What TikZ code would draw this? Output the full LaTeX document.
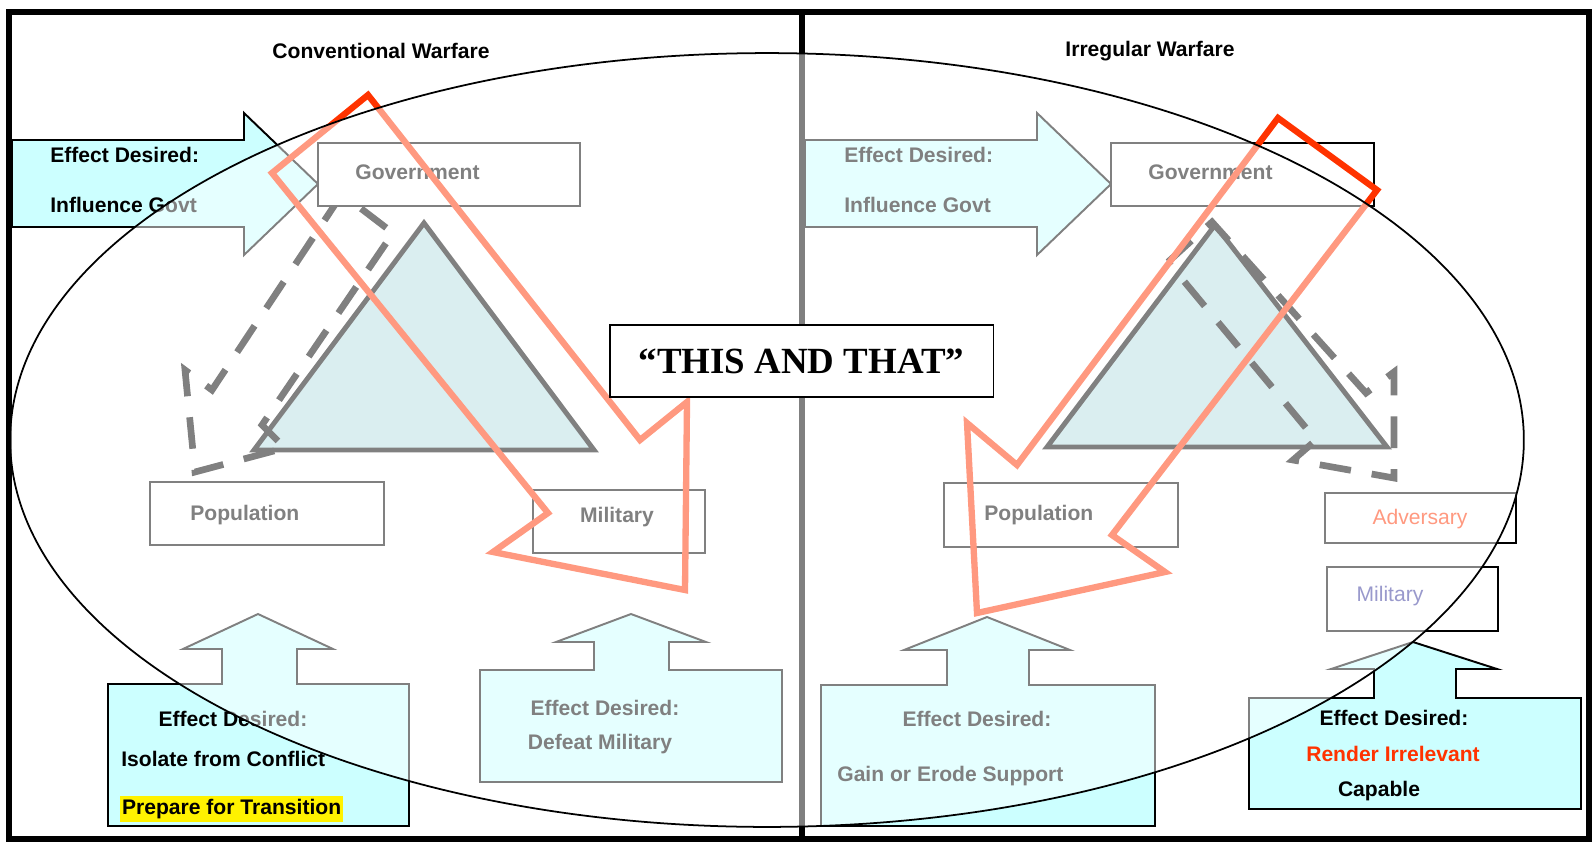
\documentclass[tikz,border=0pt]{standalone}
\usepackage{fontspec}
\setmainfont{Liberation Sans}
\newfontfamily\serifbold{Liberation Serif}
\usepackage{xcolor}
\usepackage{tikz}
\usetikzlibrary{positioning}
\definecolor{hotred}{HTML}{FF3300}
\definecolor{effectcyan}{HTML}{CCFFFF}
\definecolor{triteal}{HTML}{B5DDE1}
\definecolor{navyviolet}{HTML}{333399}
\tikzstyle{lbl} = [font=\fontsize{12}{14}\selectfont\bfseries, inner sep=0pt, yshift=-1.1pt]
\tikzstyle{plainlbl} = [font=\fontsize{12}{14}\selectfont, inner sep=0pt, yshift=-1.1pt]
\tikzstyle{entity} = [rectangle, draw=black, line width=1.1pt, fill=white, inner sep=0pt]
\tikzstyle{effect} = [draw=black, line width=1.1pt, fill=effectcyan]
\tikzstyle{pillar} = [draw=black, line width=2.8pt, fill=triteal]
\tikzstyle{linkage} = [draw=black, line width=3.8pt, dash pattern=on 18pt off 12pt]
\tikzstyle{focusarrow} = [draw=hotred, line width=3.6pt]

\begin{document}
\begin{tikzpicture}[x=0.02cm, y=-0.02cm]
\useasboundingbox (0,0) rectangle (1592,842);
\draw[line width=3.2pt] (9,12) rectangle (1589,839);
\draw[line width=3.4pt] (802,12) -- (802,839);

\node[lbl] (convtitle) at (381,49) {Conventional Warfare};
\node[lbl] (irrtitle) at (1150,49) {Irregular Warfare};

\draw[effect] (12,140) -- (244,140) -- (244,113) -- (318,184) -- (244,255) -- (244,227) -- (12,227) -- cycle;
\draw[effect] (805,140) -- (1037,140) -- (1037,113) -- (1111,184) -- (1037,255) -- (1037,227) -- (805,227) -- cycle;
\node[lbl, anchor=west] (infLa) at (50,153) {Effect Desired:};
\node[lbl, anchor=west] (infLb) at (50,203) {Influence Govt};
\node[lbl, anchor=west] (infRa) at (844,153) {Effect Desired:};
\node[lbl, anchor=west] (infRb) at (844,203) {Influence Govt};

\draw[effect] (108,684) -- (222,684) -- (222,649) -- (183,649) -- (258,614) -- (333,649) -- (297,649) -- (297,684) -- (409,684) -- (409,826) -- (108,826) -- cycle;
\draw[effect] (480,670) -- (594,670) -- (594,642) -- (556,642) -- (631,614) -- (706,642) -- (669,642) -- (669,670) -- (782,670) -- (782,782) -- (480,782) -- cycle;
\draw[effect] (821,685) -- (947,685) -- (947,650) -- (904,650) -- (987,617) -- (1070,650) -- (1029,650) -- (1029,685) -- (1155,685) -- (1155,826) -- (821,826) -- cycle;
\draw[effect] (1249,698) -- (1374,698) -- (1374,669) -- (1331,669) -- (1413,642) -- (1497,669) -- (1456,669) -- (1456,698) -- (1581,698) -- (1581,809) -- (1249,809) -- cycle;

\node[lbl] (isoa) at (233,717) {Effect Desired:};
\node[lbl, anchor=west] (isob) at (121,757) {Isolate from Conflict};
\node[lbl, anchor=west, fill=yellow, inner xsep=1pt, inner ysep=2pt] (isoc) at (120,807) {Prepare for Transition};
\node[lbl] (defa) at (605,706) {Effect Desired:};
\node[lbl] (defb) at (600,742) {Defeat Military};
\node[lbl] (gaina) at (977,717) {Effect Desired:};
\node[lbl, anchor=west] (gainb) at (837,774) {Gain or Erode Support};
\node[lbl] (renda) at (1394,716) {Effect Desired:};
\node[lbl, text=hotred] (rendb) at (1393,752) {Render Irrelevant};
\node[lbl] (rendc) at (1379,789) {Capable};

\draw[pillar] (424,223) -- (594,450) -- (254,450) -- cycle;
\draw[pillar] (1215,225) -- (1387,447) -- (1047,447) -- cycle;

\draw[linkage] (342,194) -- (212,390) -- (185,370) -- (195,472) -- (285,448) -- (262,425) -- (393,233) -- cycle;
\draw[linkage] (1168,262) -- (1212,222) -- (1366,393) -- (1394,372) -- (1394,478) -- (1293,460) -- (1316,440) -- cycle;

\node[entity, minimum width=5.24cm, minimum height=1.26cm] (govL) at (449,174.5) {};
\node[lbl, anchor=west] (govLtxt) at (355,170) {Government};
\node[entity, minimum width=5.26cm, minimum height=1.26cm] (govR) at (1242.5,174.5) {};
\node[lbl, anchor=west] (govRtxt) at (1148,170) {Government};
\node[entity, minimum width=4.68cm, minimum height=1.26cm] (popL) at (267,513.5) {};
\node[lbl, anchor=west] (popLtxt) at (190,513) {Population};
\node[entity, minimum width=3.44cm, minimum height=1.26cm] (milL) at (619,521.5) {};
\node[lbl] (milLtxt) at (617,515) {Military};
\node[entity, minimum width=4.68cm, minimum height=1.28cm] (popR) at (1061,515) {};
\node[lbl, anchor=west] (popRtxt) at (984,513) {Population};
\node[entity, minimum width=3.82cm, minimum height=1.0cm] (adv) at (1420.5,518) {};
\node[plainlbl, text=hotred] (advtxt) at (1420,517) {Adversary};
\node[entity, minimum width=3.42cm, minimum height=1.28cm] (milR) at (1412.5,599) {};
\node[plainlbl, text=navyviolet] (milRtxt) at (1390,594) {Military};

\draw[focusarrow] (368,95) -- (272,173) -- (548,513) -- (493,552) -- (685,590) -- (687,402) -- (640,440) -- cycle;
\draw[focusarrow] (1278,118) -- (1377,190) -- (1112,535) -- (1165,572) -- (977,613) -- (967,423) -- (1017,465) -- cycle;

\fill[white, fill opacity=0.5] (767,440) ellipse [x radius=15.14cm, y radius=7.74cm];
\draw[line width=1pt] (767,440) ellipse [x radius=15.14cm, y radius=7.74cm];

\node[draw=black, line width=1.1pt, fill=white, minimum width=7.68cm, minimum height=1.44cm, font=\serifbold\fontsize{21}{24}\selectfont\bfseries] (thisthat) at (801.5,361) {“THIS AND THAT”};
\end{tikzpicture}
\end{document}
